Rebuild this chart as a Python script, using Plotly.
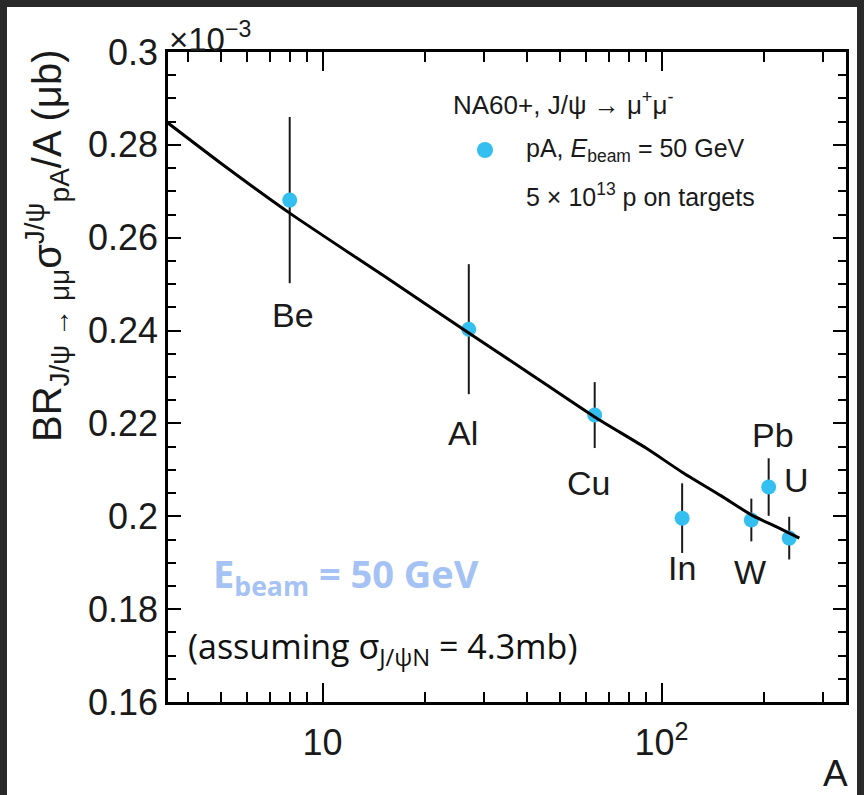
import math
import plotly.graph_objects as go

# ---- data ----
elements = ["Be", "Al", "Cu", "In", "W", "Pb", "U"]
mass_number = [8.0, 27, 63.5, 115, 184, 207, 238]
ratio = [0.2681, 0.2403, 0.2218, 0.1996, 0.1992, 0.2063, 0.1953]
ratio_err = [0.0179, 0.0140, 0.0071, 0.0075, 0.0046, 0.0062, 0.0046]

fit_A = [3.5, 5, 8, 15, 27, 40, 63.5, 90, 115, 150, 184, 220, 255]
fit_ratio = [0.2847, 0.2761, 0.2653, 0.2520, 0.2395, 0.2312, 0.2214, 0.2147,
             0.2095, 0.2044, 0.2003, 0.1976, 0.1953]

y_ticks = [0.16, 0.18, 0.20, 0.22, 0.24, 0.26, 0.28, 0.30]
y_ticktext = ["0.16", "0.18", "0.2", "0.22", "0.24", "0.26", "0.28", "0.3"]
x_ticks = [10, 100]
x_ticktext = ["10", "10<sup>2</sup>"]

# label offsets (pixels) relative to each data point
label_dx = [3, -6, -6, 0, -1, 4, 7]
label_dy = [-115, -104, -68, -50, -52, 52, 58]

# ---- layout geometry ----
W, H = 864, 795
ML, MR, MT, MB = 168, 18, 52, 93
PW, PH = W - ML - MR, H - MT - MB


def px(x):
    return (x - ML) / PW


def py(y):
    return (H - MB - y) / PH


BLUE = "#33bff0"
INK = "#1a1a1a"
FONT = "Liberation Sans, Arial, sans-serif"

fig = go.Figure()

fig.add_trace(go.Scatter(
    x=mass_number, y=ratio, mode="markers",
    marker=dict(color=BLUE, size=15, line=dict(width=0)),
    error_y=dict(type="data", array=ratio_err, visible=True,
                 color=INK, thickness=2, width=0),
    showlegend=False, hoverinfo="x+y",
))

fig.add_trace(go.Scatter(
    x=fit_A, y=fit_ratio, mode="lines", line_shape="spline",
    line=dict(color="black", width=3, smoothing=0.6),
    showlegend=False, hoverinfo="skip",
))

annotations = []
for el, a, v, dx, dy in zip(elements, mass_number, ratio, label_dx, label_dy):
    annotations.append(dict(
        x=math.log10(a), y=v, xref="x", yref="y", text=el, showarrow=False,
        xanchor="center", yanchor="middle",
        xshift=dx, yshift=dy, font=dict(family=FONT, size=34, color=INK),
    ))


def note(x, y, text, size, xanchor="left", family=FONT, color=INK, **kw):
    annotations.append(dict(
        x=px(x), y=py(y), xref="paper", yref="paper", xanchor=xanchor,
        yanchor="middle", text=text, showarrow=False,
        font=dict(family=family, size=size, color=color), **kw,
    ))


# y-axis title
note(47, 246, "BR<sub>J/ψ → μμ</sub>σ<sup>J/ψ</sup><sub>pA</sub>/A (μb)", 40,
     xanchor="center", textangle=-90)
# exponent
note(167, 37, "×10<sup>−3</sup>", 33)
# x-axis title
note(835, 773, "A", 37, xanchor="center")
# legend-like texts
note(451, 103, "NA60+, J/ψ → μ<sup>+</sup>μ<sup>-</sup>", 26)
note(524, 150, "pA, <i>E</i><sub>beam</sub> = 50 GeV", 25)
note(524, 195, "5 × 10<sup>13</sup> p on targets", 25)
# overlay notes
note(211, 575, "<b>E<sub>beam</sub> = 50 GeV</b>", 38,
     family="Open Sans, sans-serif", color="#a4c2f4")
note(186, 648, "(assuming σ<sub>J/ψN</sub> = 4.3mb)", 34,
     family="Open Sans, sans-serif", color="#111111")

shapes = [
    dict(type="rect", xref="paper", yref="paper", layer="below",
         x0=px(7), x1=px(857), y0=py(H + 5), y1=py(7),
         fillcolor="white", line=dict(width=0)),
    dict(type="circle", xref="paper", yref="paper",
         x0=px(477), x1=px(493), y0=py(158), y1=py(142),
         fillcolor=BLUE, line=dict(width=0)),
]

axis_common = dict(
    showline=True, linecolor="black", linewidth=2.5, mirror="ticks",
    ticks="inside", tickcolor="black", tickwidth=2, showgrid=False, zeroline=False,
    automargin=False,
)

fig.update_layout(
    width=W, height=H,
    margin=dict(l=ML, r=MR, t=MT, b=MB, pad=0),
    paper_bgcolor="#292929", plot_bgcolor="white",
    xaxis=dict(
        type="log", range=[math.log10(3.5), math.log10(350)],
        tickmode="array", tickvals=x_ticks, ticktext=x_ticktext, ticklen=19,
        minor=dict(dtick="D1", ticks="inside",
                   ticklen=10, tickwidth=2, tickcolor="black", showgrid=False),
        tickfont=dict(family=FONT, size=36, color=INK), ticklabelstandoff=7,
        **axis_common,
    ),
    yaxis=dict(
        range=[0.16, 0.30],
        tickmode="array", tickvals=y_ticks, ticktext=y_ticktext, ticklen=13,
        minor=dict(dtick=0.005, tick0=0.16, ticks="inside",
                   ticklen=8, tickwidth=2, tickcolor="black", showgrid=False),
        tickfont=dict(family=FONT, size=36, color=INK), ticklabelstandoff=0,
        **axis_common,
    ),
    annotations=annotations,
    shapes=shapes,
    showlegend=False,
)

fig.write_html(
    "out.html",
    config={"displayModeBar": False},
    post_script="document.body.style.margin='0';"
                "document.body.style.background='#292929';",
)
